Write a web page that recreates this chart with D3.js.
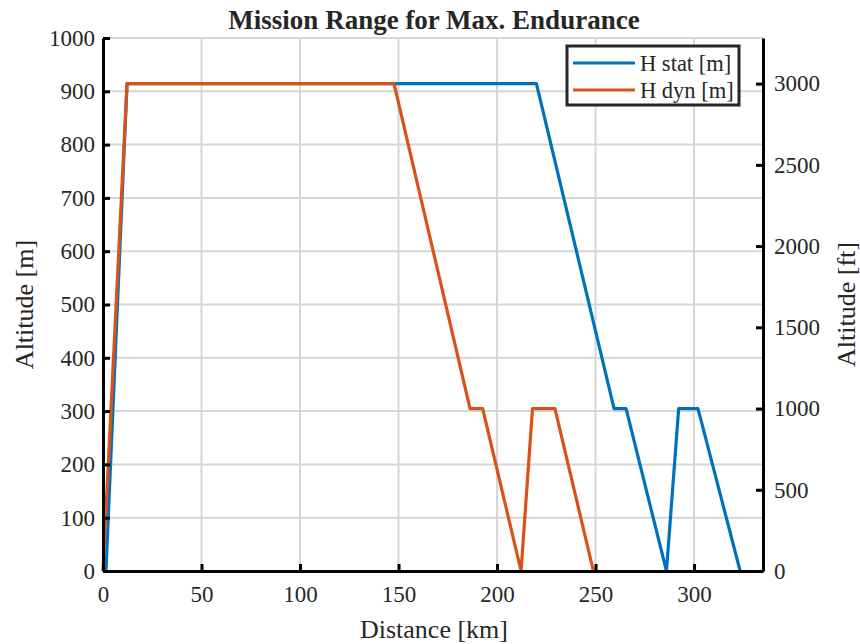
<!DOCTYPE html>
<html>
<head>
<meta charset="utf-8">
<script src="https://cdn.jsdelivr.net/npm/d3@7/dist/d3.min.js"></script>
<style>
  html, body { margin: 0; padding: 0; background: #fff; }
  text { font-family: "Liberation Serif", "Times New Roman", serif; fill: #262626; }
</style>
</head>
<body>
<svg id="chart" width="860" height="644"></svg>
<script>
// Mission profile: distance [km] vs altitude [m]
const statDist = [0, 1.5, 12.2, 220, 259.4, 265.5, 286, 292.2, 302, 323.4];
const statAlt  = [0, 0, 914.4, 914.4, 304.8, 304.8, 0, 304.8, 304.8, 0];
const dynDist  = [0, 12.2, 147.7, 186.3, 192.7, 212.2, 218, 229.4, 248.9];
const dynAlt   = [0, 914.4, 914.4, 304.8, 304.8, 0, 304.8, 304.8, 0];
const seriesNames = ["H stat [m]", "H dyn [m]"];
const seriesColors = ["#0072BD", "#D95319"];
const xTicks = [0, 50, 100, 150, 200, 250, 300];
const yTicks = [0, 100, 200, 300, 400, 500, 600, 700, 800, 900, 1000];
const ftTicks = [0, 500, 1000, 1500, 2000, 2500, 3000];

const M_PER_FT = 0.3048;
const plotL = 103, plotR = 763, plotT = 38, plotB = 571;

const svg = d3.select("#chart");
const x = d3.scaleLinear().domain([0, 335]).range([plotL, plotR]);
const y = d3.scaleLinear().domain([0, 1000]).range([plotB, plotT]);
const yFt = d3.scaleLinear().domain([0, 1000 / M_PER_FT]).range([plotB, plotT]);
const fmt = d3.format("d");

// grid
const grid = svg.append("g").attr("stroke", "#d6d6d6").attr("stroke-width", 2);
grid.selectAll(".gx").data(xTicks.filter(d => d > 0)).join("line")
  .attr("x1", d => x(d)).attr("x2", d => x(d)).attr("y1", plotT).attr("y2", plotB);
grid.selectAll(".gy").data(yTicks.filter(d => d > 0)).join("line")
  .attr("y1", d => y(d)).attr("y2", d => y(d)).attr("x1", plotL).attr("x2", plotR);

// series
const line = d3.line().x(d => x(d[0])).y(d => y(d[1]));
const series = [d3.zip(statDist, statAlt), d3.zip(dynDist, dynAlt)];
svg.append("g").selectAll("path").data(series).join("path")
  .attr("d", line).attr("fill", "none")
  .attr("stroke", (d, i) => seriesColors[i])
  .attr("stroke-width", 3.2).attr("stroke-linejoin", "round");

// axes
function styleAxis(g) {
  g.select(".domain").attr("stroke", "#000").attr("stroke-width", 3);
  g.selectAll(".tick line").attr("stroke", "#000").attr("stroke-width", 3);
  g.selectAll(".tick text").style("font-size", "23px").attr("fill", "#262626");
}
svg.append("g").attr("transform", `translate(0,${plotB})`)
  .call(d3.axisBottom(x).tickValues(xTicks).tickFormat(fmt).tickSizeInner(-7).tickSizeOuter(0).tickPadding(15))
  .call(styleAxis);
svg.append("g").attr("transform", `translate(${plotL},0)`)
  .call(d3.axisLeft(y).tickValues(yTicks).tickFormat(fmt).tickSizeInner(-7).tickSizeOuter(0).tickPadding(8))
  .call(styleAxis);
svg.append("g").attr("transform", `translate(${plotR},0)`)
  .call(d3.axisRight(yFt).tickValues(ftTicks).tickFormat(fmt).tickSizeInner(-7).tickSizeOuter(0).tickPadding(11))
  .call(styleAxis);

// titles
svg.append("text").attr("x", 434).attr("y", 29).attr("text-anchor", "middle")
  .style("font-size", "27px").style("font-weight", "bold").attr("fill", "#000")
  .text("Mission Range for Max. Endurance");
svg.append("text").attr("x", 434).attr("y", 638).attr("text-anchor", "middle")
  .style("font-size", "26px").text("Distance [km]");
svg.append("text").attr("transform", `translate(33,${(plotT + plotB) / 2}) rotate(-90)`)
  .attr("text-anchor", "middle").style("font-size", "26px").text("Altitude [m]");
svg.append("text").attr("transform", `translate(855,${(plotT + plotB) / 2}) rotate(-90)`)
  .attr("text-anchor", "middle").style("font-size", "26px").text("Altitude [ft]");

// legend
const lg = svg.append("g");
lg.append("rect").attr("x", 567).attr("y", 46).attr("width", 172).attr("height", 59)
  .attr("fill", "#fff").attr("stroke", "#262626").attr("stroke-width", 3);
seriesNames.forEach((name, i) => {
  const ly = 63 + i * 27;
  lg.append("line").attr("x1", 573).attr("x2", 635).attr("y1", ly).attr("y2", ly)
    .attr("stroke", seriesColors[i]).attr("stroke-width", 3.2);
  lg.append("text").attr("x", 640).attr("y", ly + 8).style("font-size", "22.5px")
    .attr("fill", "#000").text(name);
});
</script>
</body>
</html>
